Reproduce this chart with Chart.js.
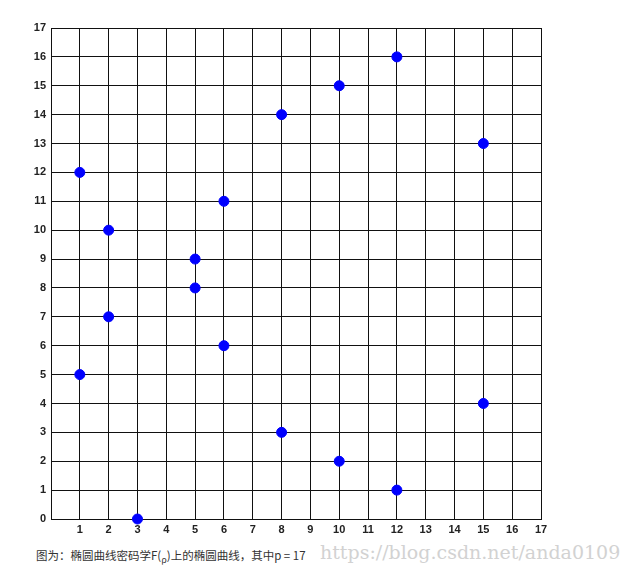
<!DOCTYPE html>
<html>
<head>
<meta charset="utf-8">
<script src="https://cdn.jsdelivr.net/npm/chart.js@4/dist/chart.umd.min.js"></script>
<style>
  body { margin: 0; background: #fff; }
  #wrap { position: relative; width: 632px; height: 577px; }
  #box { position: absolute; left: 0; top: 0; width: 632px; height: 540px; }
  #caption {
    position: absolute; left: 36px; top: 547px;
    font-family: "Noto Sans CJK SC", "Liberation Sans", sans-serif;
    font-size: 11.5px; color: #333;
  }
  #caption sub { font-size: 9px; }
  #mark {
    position: absolute; left: 320px; top: 541px;
    font-family: "DejaVu Serif", "Liberation Serif", serif;
    font-size: 19px; color: #d2d2d2;
  }
</style>
</head>
<body>
<div id="wrap">
  <div id="box"><canvas id="myChart"></canvas></div>
  <div id="caption">图为：椭圆曲线密码学F(<sub>ρ</sub>)上的椭圆曲线，其中p = 17</div>
  <div id="mark">https://blog.csdn.net/anda0109</div>
</div>
<script>
const xValues = [1, 1, 2, 2, 3, 5, 5, 6, 6, 8, 8, 10, 10, 12, 12, 15, 15];
const yValues = [5, 12, 7, 10, 0, 8, 9, 6, 11, 3, 14, 2, 15, 1, 16, 4, 13];
const axisMin = 0;
const axisMax = 17;

const points = xValues.map((x, i) => ({ x: x, y: yValues[i] }));

const tickFont = { family: "Liberation Sans", size: 11, weight: "bold" };

const config = {
  type: "scatter",
  data: {
    datasets: [
      {
        data: points,
        backgroundColor: "#0000ff",
        borderColor: "#0000ff",
        pointRadius: 5,
        pointHoverRadius: 5,
        clip: false,
      },
    ],
  },
  options: {
    responsive: true,
    maintainAspectRatio: false,
    animation: false,
    layout: { padding: { left: 0, right: 91, top: 28, bottom: 0 } },
    plugins: { legend: { display: false }, tooltip: { enabled: false } },
    scales: {
      x: {
        type: "linear",
        min: axisMin,
        max: axisMax,
        afterFit: (s) => { s.height = 21; },
        ticks: {
          stepSize: 1,
          color: "#222",
          font: tickFont,
          padding: 4,
          callback: (v) => (v === 0 ? "" : v),
        },
        grid: { color: "#111", lineWidth: 1, drawTicks: false },
        border: { color: "#111", width: 1 },
      },
      y: {
        type: "linear",
        min: axisMin,
        max: axisMax,
        afterFit: (s) => { s.width = 51; },
        ticks: { stepSize: 1, color: "#222", font: tickFont, padding: 5 },
        grid: { color: "#111", lineWidth: 1, drawTicks: false },
        border: { color: "#111", width: 1 },
      },
    },
  },
};

const myChart = document.getElementById("myChart");
new Chart(myChart, config);
</script>
</body>
</html>
